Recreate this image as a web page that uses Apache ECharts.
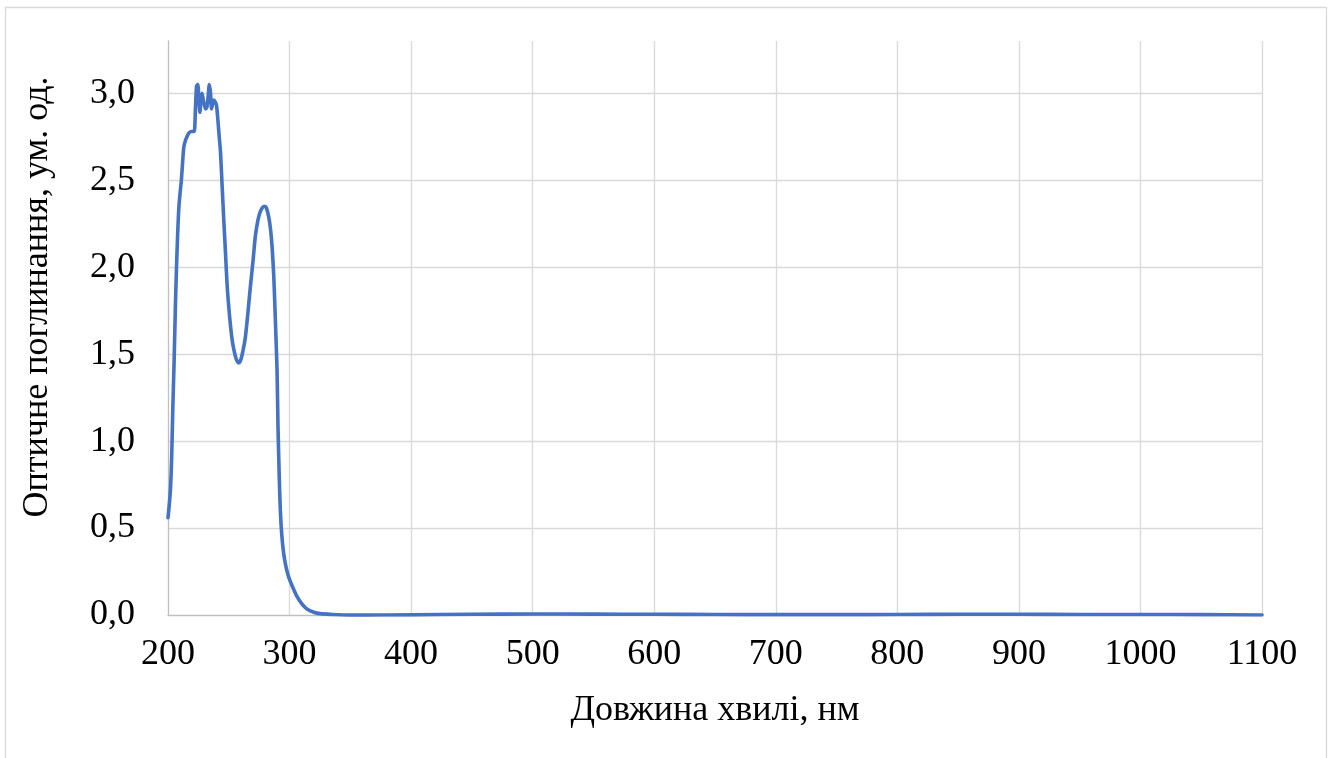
<!DOCTYPE html>
<html>
<head>
<meta charset="utf-8">
<script src="https://cdn.jsdelivr.net/npm/echarts@6/dist/echarts.min.js"></script>
<style>
  html, body { margin: 0; padding: 0; background: #fff; }
  #chart { width: 1336px; height: 758px; }
</style>
</head>
<body>
<div id="chart"></div>
<script>
// Wavelength, nm
const wavelength = [
  200, 201, 202, 203, 204, 205, 206, 207, 208, 209, 210, 211, 212, 213, 214, 215, 217, 219,
  221.5, 222.5, 223.5, 224.5, 225.5, 226.2, 227.2, 228, 229, 230, 231, 232, 233, 234, 235,
  235.8, 236.8, 237.7, 238.8, 239.9, 241, 242, 243.2, 244.5, 245.9, 247.3, 248.7, 250.5,
  252.8, 255, 256.5, 258.2, 260, 262, 263.7, 265.5, 267.8, 270, 271.9, 274, 276, 278, 279.5,
  281, 282.8, 284.3, 285.6, 287, 288.3, 289.7, 290.5, 291.5, 292.4, 293.5, 295.1, 297, 299.2,
  302, 306.1, 310, 314.3, 320, 325.2, 335, 344, 360, 400, 450, 500, 550, 600, 650, 700, 750,
  800, 850, 900, 950, 1000, 1050, 1100
];
// Optical absorbance, arb. units
const absorbance = [
  0.56, 0.63, 0.72, 0.90, 1.20, 1.45, 1.75, 2.00, 2.20, 2.35, 2.43, 2.50, 2.60, 2.69, 2.72, 2.74, 2.77, 2.78,
  2.78, 2.90, 3.04, 3.05, 2.95, 2.89, 2.97, 3.00, 2.96, 2.93, 2.91, 2.92, 2.98, 3.05, 3.00,
  2.91, 2.94, 2.96, 2.95, 2.93, 2.85, 2.76, 2.66, 2.47, 2.27, 2.08, 1.89, 1.73,
  1.58, 1.50, 1.465, 1.45, 1.47, 1.53, 1.60, 1.72, 1.89, 2.04, 2.18, 2.27, 2.32, 2.345, 2.35,
  2.34, 2.29, 2.22, 2.12, 1.95, 1.70, 1.41, 1.08, 0.80, 0.605, 0.47, 0.356, 0.28, 0.22,
  0.17, 0.107, 0.065, 0.034, 0.016, 0.008, 0.003, 0.0, -0.001, 0.001, 0.004, 0.006, 0.005, 0.004, 0.003, 0.002, 0.002,
  0.003, 0.004, 0.004, 0.003, 0.003, 0.002, 0.0
];
const xTitle = 'Довжина хвилі, нм';
const yTitle = 'Оптичне поглинання, ум. од.';

const FONT = '"Liberation Serif", "Times New Roman", serif';
const points = wavelength.map((w, i) => [w, absorbance[i]]);

const chart = echarts.init(document.getElementById('chart'), null, { renderer: 'canvas' });
chart.setOption({
  animation: false,
  backgroundColor: '#ffffff',
  grid: { left: 168, right: 74, top: 41, bottom: 143, containLabel: false },
  xAxis: {
    type: 'value',
    min: 200, max: 1100, interval: 100,
    name: xTitle,
    nameLocation: 'middle',
    nameGap: 78,
    nameTextStyle: { fontFamily: FONT, fontSize: 36, color: '#000' },
    axisLine: { show: true, lineStyle: { color: '#bfbfbf', width: 1.3 } },
    axisTick: { show: false },
    axisLabel: {
      fontFamily: FONT, fontSize: 36, color: '#000', margin: 22,
      formatter: v => String(Math.round(v))
    },
    splitLine: { show: true, showMinLine: false, lineStyle: { color: '#d9d9d9', width: 1.3 } }
  },
  yAxis: {
    type: 'value',
    min: 0, max: 3.3, interval: 0.5,
    axisLine: { show: true, lineStyle: { color: '#bfbfbf', width: 1.3 } },
    axisTick: { show: false },
    axisLabel: {
      fontFamily: FONT, fontSize: 36, color: '#000', margin: 33,
      formatter: v => (v > 3.01 ? '' : v.toFixed(1).replace('.', ','))
    },
    splitLine: { show: true, showMinLine: false, showMaxLine: false, lineStyle: { color: '#d9d9d9', width: 1.3 } }
  },
  graphic: [
    {
      type: 'rect',
      shape: { x: 5.5, y: 7.5, width: 1321, height: 770 },
      style: { fill: 'none', stroke: '#d9d9d9', lineWidth: 1.3 },
      silent: true, z: -1
    },
    {
      type: 'text',
      x: 38, y: 297,
      rotation: Math.PI / 2,
      style: {
        text: yTitle,
        fontFamily: FONT, fontSize: 36, fill: '#000',
        textAlign: 'center', textVerticalAlign: 'middle'
      }
    }
  ],
  series: [{
    type: 'line',
    data: points,
    showSymbol: false,
    smooth: 0.25,
    lineStyle: { color: '#4472C4', width: 3.6, join: 'round', cap: 'round' },
    itemStyle: { color: '#4472C4' }
  }]
});
</script>
</body>
</html>
